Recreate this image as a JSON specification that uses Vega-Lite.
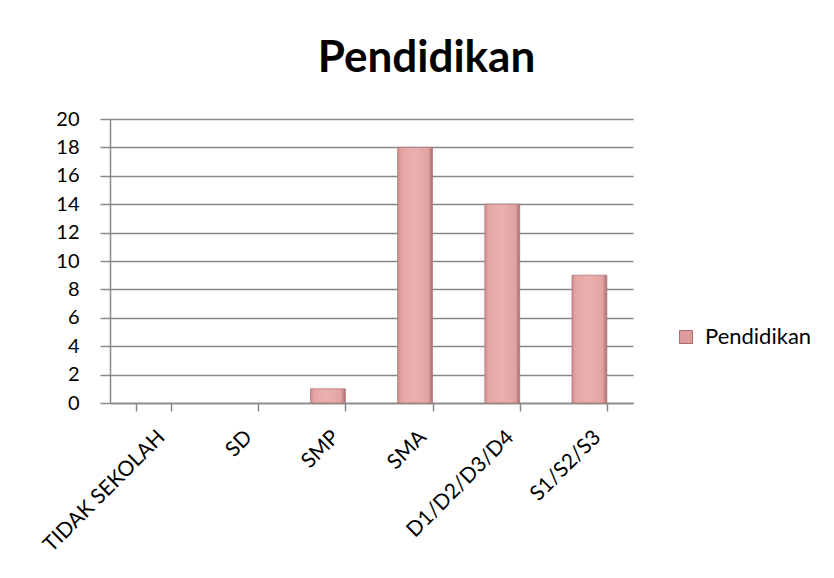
{
  "$schema": "https://vega.github.io/schema/vega-lite/v6.json",
  "autosize": "none",
  "width": 523,
  "height": 284,
  "padding": {"left": 110, "top": 119, "right": 201, "bottom": 175},
  "background": "white",
  "title": {
    "text": "Pendidikan",
    "font": "Lato",
    "fontSize": 44,
    "fontWeight": "bold",
    "color": "#000000",
    "anchor": "middle",
    "frame": "group",
    "dx": 55,
    "offset": 28
  },
  "data": {
    "values": [
      {"kategori": "TIDAK SEKOLAH", "nilai": 0, "seri": "Pendidikan"},
      {"kategori": "SD", "nilai": 0, "seri": "Pendidikan"},
      {"kategori": "SMP", "nilai": 1, "seri": "Pendidikan"},
      {"kategori": "SMA", "nilai": 18, "seri": "Pendidikan"},
      {"kategori": "D1/D2/D3/D4", "nilai": 14, "seri": "Pendidikan"},
      {"kategori": "S1/S2/S3", "nilai": 9, "seri": "Pendidikan"}
    ]
  },
  "encoding": {
    "x": {
      "field": "kategori",
      "type": "nominal",
      "sort": ["TIDAK SEKOLAH", "SD", "SMP", "SMA", "D1/D2/D3/D4", "S1/S2/S3"],
      "scale": {"paddingInner": 0.6, "paddingOuter": 0.3},
      "axis": {
        "title": null,
        "labelAngle": -45,
        "labelFont": "Lato",
        "labelFontSize": 21,
        "labelColor": "#000000",
        "labelPadding": 15,
        "tickBand": "extent",
        "tickSize": 8,
        "tickColor": "#888888",
        "tickWidth": 1.5,
        "domainColor": "#888888",
        "domainWidth": 1.5,
        "grid": false
      }
    },
    "y": {
      "field": "nilai",
      "type": "quantitative",
      "scale": {"domain": [0, 20], "nice": false},
      "axis": {
        "title": null,
        "values": [0, 2, 4, 6, 8, 10, 12, 14, 16, 18, 20],
        "labelFont": "Lato",
        "labelFontSize": 20,
        "labelColor": "#000000",
        "labelPadding": 21,
        "tickSize": 10,
        "tickColor": "#888888",
        "tickWidth": 1.5,
        "domainColor": "#888888",
        "domainWidth": 1.5,
        "grid": true,
        "gridColor": "#888888",
        "gridWidth": 1.5
      }
    }
  },
  "layer": [
    {
      "transform": [{"filter": "datum.nilai > 0"}],
      "mark": {
        "type": "bar",
        "stroke": "#b57a7a",
        "strokeWidth": 0.8,
        "color": {
          "gradient": "linear",
          "x1": 0, "y1": 0, "x2": 1, "y2": 0,
          "stops": [
            {"offset": 0, "color": "#d08c8c"},
            {"offset": 0.12, "color": "#e6a6a6"},
            {"offset": 0.5, "color": "#eab0b0"},
            {"offset": 0.88, "color": "#e2a2a2"},
            {"offset": 1, "color": "#a86c6c"}
          ]
        }
      },
      "encoding": {}
    },
    {
      "mark": {"type": "bar", "opacity": 0},
      "encoding": {
        "color": {
          "field": "seri",
          "type": "nominal",
          "scale": {"range": ["#dc9c9c"]},
          "legend": {
            "title": null,
            "orient": "none",
            "legendX": 565,
            "legendY": 207,
            "symbolType": "square",
            "symbolSize": 169,
            "symbolOpacity": 1,
            "symbolStrokeColor": "#a86c6c",
            "symbolStrokeWidth": 1,
            "labelFont": "Lato",
            "labelFontSize": 22,
            "labelColor": "#000000",
            "labelOffset": 8
          }
        }
      }
    }
  ],
  "config": {
    "view": {"stroke": null}
  }
}
